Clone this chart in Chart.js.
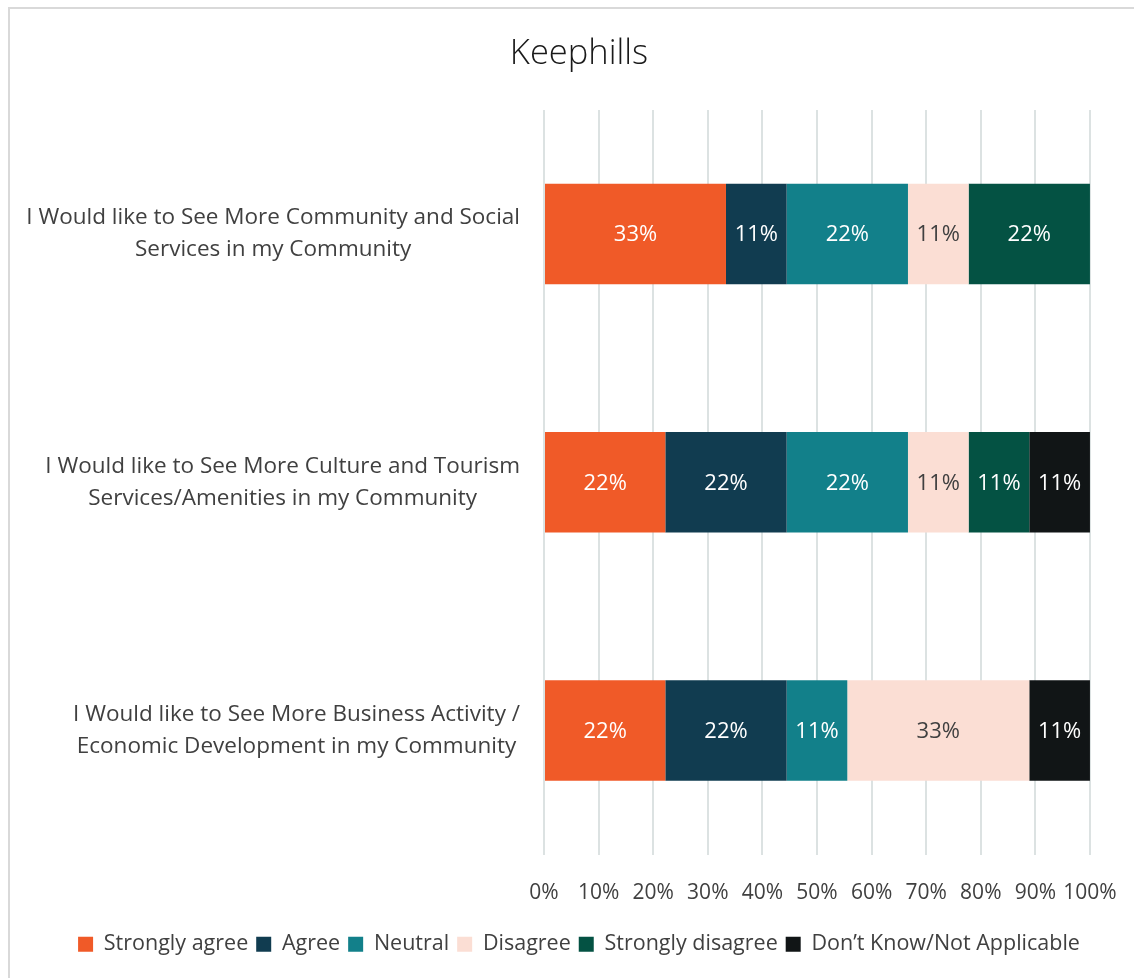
<!DOCTYPE html>
<html>
<head>
<meta charset="utf-8">
<script src="https://cdn.jsdelivr.net/npm/chart.js@4.4.1/dist/chart.umd.min.js"></script>
<style>
  html, body { margin: 0; padding: 0; background: #ffffff; }
  #wrap { position: relative; width: 1134px; height: 978px; }
</style>
</head>
<body>
<div id="wrap"><canvas id="c" width="1134" height="978"></canvas></div>
<script>
const chartTitle = "Keephills";
const categories = [
  ["I Would like to See More Community and Social", "Services in my Community"],
  ["I Would like to See More Culture and Tourism", "Services/Amenities in my Community"],
  ["I Would like to See More Business Activity /", "Economic Development in my Community"]
];
const seriesNames = ["Strongly agree", "Agree", "Neutral", "Disagree", "Strongly disagree", "Don\u2019t Know/Not Applicable"];
const stronglyAgree    = [33.33, 22.22, 22.22];
const agree            = [11.11, 22.22, 22.22];
const neutral          = [22.22, 22.22, 11.11];
const disagree         = [11.11, 11.11, 33.33];
const stronglyDisagree = [22.22, 11.11, 0];
const dontKnow         = [0, 11.11, 11.11];
const xTickLabels = ["0%", "10%", "20%", "30%", "40%", "50%", "60%", "70%", "80%", "90%", "100%"];

const seriesValues = [stronglyAgree, agree, neutral, disagree, stronglyDisagree, dontKnow];
const seriesColors = ["#F05A28", "#113C50", "#12808A", "#FBDED4", "#045243", "#111516"];
const labelColors  = ["#FFFFFF", "#FFFFFF", "#FFFFFF", "#404040", "#FFFFFF", "#FFFFFF"];

const FONT = "'Open Sans', 'Noto Sans', sans-serif";
const PAD_LEFT = 68;

const frame = {
  id: 'frame',
  beforeDraw(chart) {
    const ctx = chart.ctx;
    ctx.save();
    ctx.strokeStyle = '#D9D9D9';
    ctx.lineWidth = 2;
    ctx.beginPath();
    ctx.moveTo(9, 1000);
    ctx.lineTo(9, 8);
    ctx.lineTo(1200, 8);
    ctx.stroke();
    ctx.restore();
  }
};

const catLabels = {
  id: 'catLabels',
  afterDraw(chart) {
    const ctx = chart.ctx;
    const ys = chart.scales.y;
    const rightX = chart.chartArea.left - 24;
    ctx.save();
    ctx.font = "22.5px " + FONT;
    ctx.fillStyle = '#404040';
    ctx.textBaseline = 'middle';
    ctx.textAlign = 'center';
    const lh = 32;
    categories.forEach((lines, i) => {
      const cy = ys.getPixelForValue(i);
      const widest = Math.max(...lines.map(l => ctx.measureText(l).width));
      const cx = rightX - widest / 2;
      const y0 = cy - (lines.length - 1) * lh / 2;
      lines.forEach((l, k) => ctx.fillText(l, cx, y0 + k * lh));
    });
    ctx.restore();
  }
};

const valueLabels = {
  id: 'valueLabels',
  afterDatasetsDraw(chart) {
    const ctx = chart.ctx;
    ctx.save();
    ctx.font = "22px " + FONT;
    ctx.textAlign = 'center';
    ctx.textBaseline = 'middle';
    chart.data.datasets.forEach((ds, di) => {
      const meta = chart.getDatasetMeta(di);
      meta.data.forEach((el, i) => {
        const v = ds.data[i];
        if (!v) return;
        const p = el.getCenterPoint();
        ctx.fillStyle = labelColors[di];
        ctx.fillText(Math.round(v) + '%', p.x, p.y + 1);
      });
    });
    ctx.restore();
  }
};

new Chart(document.getElementById('c'), {
  type: 'bar',
  data: {
    labels: categories.map(c => c.join(' ')),
    datasets: seriesNames.map((n, i) => ({
      label: n,
      data: seriesValues[i],
      backgroundColor: seriesColors[i],
      borderWidth: 0,
      barPercentage: 0.405,
      categoryPercentage: 1.0
    }))
  },
  options: {
    indexAxis: 'y',
    responsive: false,
    animation: false,
    layout: { padding: { left: PAD_LEFT, right: 44, top: 10, bottom: 13 } },
    scales: {
      x: {
        stacked: true,
        min: 0, max: 100,
        ticks: {
          stepSize: 10,
          padding: 0,
          maxRotation: 0,
          minRotation: 0,
          autoSkip: false,
          color: '#404040',
          font: { family: FONT, size: 21 },
          callback: (v, idx) => xTickLabels[idx]
        },
        grid: { color: '#DCE2E2', lineWidth: 2, drawTicks: true, tickLength: 26, tickColor: 'rgba(0,0,0,0)' },
        border: { display: false },
        afterFit(s) { s.height = 71; }
      },
      y: {
        stacked: true,
        ticks: { display: false },
        grid: { display: false },
        border: { display: false },
        afterFit(s) { s.width = 544 - PAD_LEFT; }
      }
    },
    plugins: {
      title: {
        display: true,
        text: chartTitle,
        color: '#1A1A1A',
        font: { family: FONT, size: 34.5, weight: '300' },
        padding: { top: 23.3, bottom: 35.3 }
      },
      legend: {
        position: 'bottom',
        labels: {
          boxWidth: 15, boxHeight: 15,
          padding: 8,
          color: '#404040',
          font: { family: FONT, size: 21.5 }
        }
      },
      tooltip: { enabled: false }
    }
  },
  plugins: [frame, catLabels, valueLabels]
});
</script>
</body>
</html>
